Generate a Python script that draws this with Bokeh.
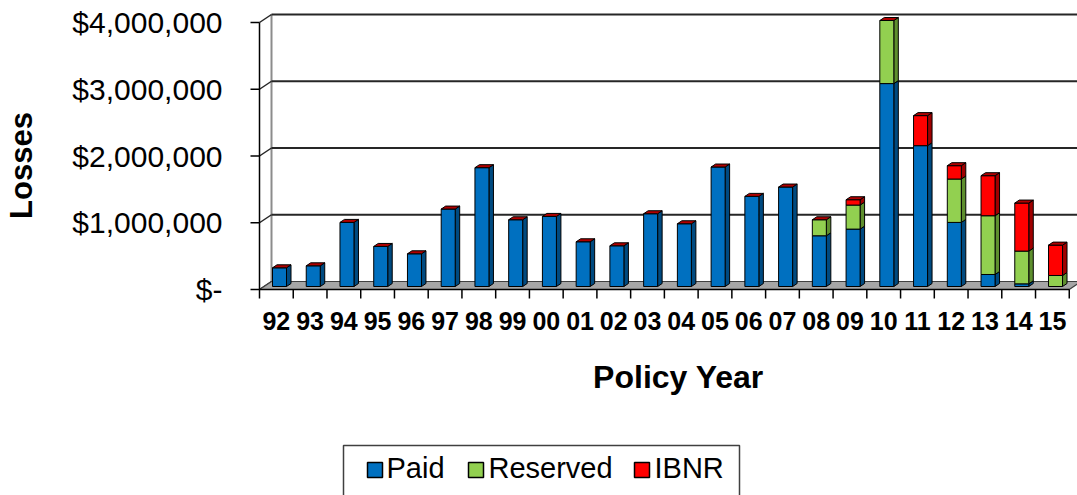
from bokeh.plotting import figure
from bokeh.models import Range1d
from bokeh.embed import file_html
from bokeh.resources import INLINE
from bokeh.core.properties import value
import math

# ---------------- data ----------------
years = ["92", "93", "94", "95", "96", "97", "98", "99", "00", "01", "02", "03",
         "04", "05", "06", "07", "08", "09", "10", "11", "12", "13", "14", "15"]
paid = [280000, 310000, 960000, 600000, 490000, 1160000, 1780000, 1000000,
        1050000, 670000, 610000, 1090000, 940000, 1790000, 1350000, 1490000,
        760000, 860000, 3040000, 2110000, 960000, 180000, 40000, 0]
reserved = [0, 0, 0, 0, 0, 0, 0, 0, 0, 0, 0, 0, 0, 0, 0, 0,
            240000, 360000, 945000, 0, 650000, 880000, 490000, 165000]
ibnr = [0, 0, 0, 0, 0, 0, 0, 0, 0, 0, 0, 0, 0, 0, 0, 0,
        0, 80000, 0, 450000, 200000, 600000, 720000, 455000]
series = [paid, reserved, ibnr]
series_names = ["Paid", "Reserved", "IBNR"]
y_ticks = [0, 1000000, 2000000, 3000000, 4000000]
y_tick_labels = ["$-", "$1,000,000", "$2,000,000", "$3,000,000", "$4,000,000"]

face_colors = ["#0070C0", "#92D050", "#FF0000"]
side_colors = ["#004A80", "#5E8F2E", "#A00000"]
top_colors = ["#2F8AD4", "#B0E07A", "#B00000"]

FONT = "Liberation Sans"

# ---------------- layout (pixels in the picture) ----------------
W, H = 1077, 495
ORIGIN = 0
X0_PX = 259.0      # front-left corner of category 0
CAT_PX = 33.74     # category width
Y0_PX = 289.0      # front floor edge
M_PX = 66.75       # pixels per 1,000,000


def fx(px):
    return (px - X0_PX) / CAT_PX


def fy(py):
    return (Y0_PX - py) / M_PX * 1e6


def dxp(d):
    return d / CAT_PX


def dyp(d):
    return d / M_PX * 1e6


p = figure(width=W, height=H,
           x_range=Range1d(fx(ORIGIN), fx(ORIGIN + W)),
           y_range=Range1d(fy(ORIGIN + H), fy(ORIGIN)),
           output_backend="svg", toolbar_location=None,
           x_axis_type=None, y_axis_type=None,
           min_border=0, min_border_left=0, min_border_right=0,
           min_border_top=0, min_border_bottom=0)
p.grid.visible = False
p.outline_line_color = None
p.background_fill_color = "white"
p.border_fill_color = "white"

n = len(years)
DX, DY = dxp(12), dyp(8)

# back wall left edge
p.segment(x0=[DX], y0=[DY], x1=[DX], y1=[y_ticks[-1] + DY],
          line_color="#8c8c8c", line_width=2)
# back wall gridlines
gt = y_ticks[1:]
p.segment(x0=[DX] * len(gt), y0=[t + DY for t in gt],
          x1=[n + DX + 1] * len(gt), y1=[t + DY for t in gt],
          line_color="#262626", line_width=2)
# connectors from front axis to back wall
p.segment(x0=[0] * len(y_ticks), y0=y_ticks,
          x1=[DX] * len(y_ticks), y1=[t + DY for t in y_ticks],
          line_color="#262626", line_width=1.5)

# floor
p.patch(x=[0, n, n + DX, DX], y=[0, 0, DY, DY],
        fill_color="#A6A6A6", line_color="#404040", line_width=1.2)

# bars
BX0, BW = dxp(13), dxp(14)
BDX, BDY = dxp(4.5), dyp(3)
BOFF = dyp(3)

front_xs, front_ys, front_c = [], [], []
side_xs, side_ys, side_c = [], [], []
top_xs, top_ys, top_c = [], [], []
for i in range(n):
    x0 = i + BX0
    x1 = x0 + BW
    base = 0
    for k, s in enumerate(series):
        v = s[i]
        y0 = base + BOFF
        y1 = base + v + BOFF
        if v > 0:
            front_xs.append([x0, x1, x1, x0])
            front_ys.append([y0, y0, y1, y1])
            front_c.append(face_colors[k])
            side_xs.append([x1, x1 + BDX, x1 + BDX, x1])
            side_ys.append([y0, y0 + BDY, y1 + BDY, y1])
            side_c.append(side_colors[k])
        base += v
    yt = base + BOFF
    top_xs.append([x0, x1, x1 + BDX, x0 + BDX])
    top_ys.append([yt, yt, yt + BDY, yt + BDY])
    top_c.append(top_colors[2])

p.patches(xs=side_xs, ys=side_ys, fill_color=side_c, line_color="black", line_width=1)
p.patches(xs=front_xs, ys=front_ys, fill_color=front_c, line_color="black", line_width=1)
p.patches(xs=top_xs, ys=top_ys, fill_color=top_c, line_color="black", line_width=1)

# front y axis + ticks
p.segment(x0=[0], y0=[0], x1=[0], y1=[y_ticks[-1]], line_color="black", line_width=1.5)
p.segment(x0=[fx(250)] * len(y_ticks), y0=y_ticks, x1=[0] * len(y_ticks), y1=y_ticks,
          line_color="black", line_width=1.5)
# x axis + ticks
p.segment(x0=[0], y0=[0], x1=[n], y1=[0], line_color="black", line_width=1.5)
p.segment(x0=list(range(n + 1)), y0=[0] * (n + 1), x1=list(range(n + 1)),
          y1=[fy(Y0_PX + 9)] * (n + 1), line_color="black", line_width=1.5)

# tick labels
p.text(x=[fx(222)] * len(y_ticks), y=y_ticks, text=y_tick_labels,
       text_font=value(FONT), text_font_size="30px", text_align="right",
       text_baseline="middle", text_color="black")
p.text(x=[i + 0.5 for i in range(n)], y=[fy(320)] * n, text=years,
       text_font=value(FONT), text_font_size="25px", text_font_style="bold",
       text_align="center", text_baseline="middle", text_color="black")

# axis titles
p.text(x=[fx(678)], y=[fy(376)], text=["Policy Year"], text_font=value(FONT),
       text_font_size="32px", text_font_style="bold", text_align="center",
       text_baseline="middle", text_color="black")
p.text(x=[fx(21)], y=[fy(165)], text=["Losses"], angle=math.pi / 2,
       text_font=value(FONT), text_font_size="31px", text_font_style="bold",
       text_align="center", text_baseline="middle", text_color="black")

# legend
p.quad(left=[fx(343)], right=[fx(739)], top=[fy(445)], bottom=[fy(520)],
       fill_color=None, line_color="#404040", line_width=1.5)
sq_left = [367, 468, 634]
txt_left = [386, 488, 654]
p.quad(left=[fx(v) for v in sq_left], right=[fx(v + 15) for v in sq_left],
       top=[fy(462)] * 3, bottom=[fy(477)] * 3,
       fill_color=face_colors, line_color="black", line_width=1.5)
p.text(x=[fx(v) for v in txt_left], y=[fy(467)] * 3, text=series_names,
       text_font=value(FONT), text_font_size="29px", text_align="left",
       text_baseline="middle", text_color="black")

open("out.html", "w").write(file_html(p, INLINE))
